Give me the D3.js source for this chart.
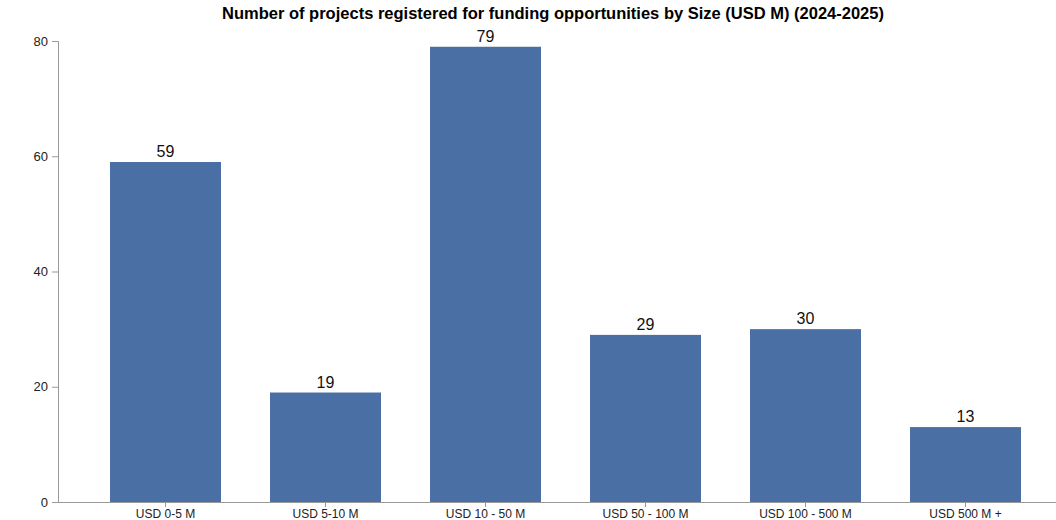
<!DOCTYPE html>
<html><head><meta charset="utf-8">
<script src="https://cdn.jsdelivr.net/npm/d3@7"></script>
<style>body{margin:0;background:#fff;} svg{display:block;font-family:"Liberation Sans",Arial,sans-serif;}</style>
</head><body>
<svg id="chart" width="1056" height="520"></svg>
<script>
const categories = ["USD 0-5 M","USD 5-10 M","USD 10 - 50 M","USD 50 - 100 M","USD 100 - 500 M","USD 500 M +"];
const values = [59,19,79,29,30,13];
const yTicks = [0,20,40,60,80];
const title = "Number of projects registered for funding opportunities by Size (USD M) (2024-2025)";

const svg = d3.select("#chart");
const x0 = 58, yBase = 502, yTop = 41;
const x = d3.scaleBand().domain(categories).range([x0, 1073]).paddingInner(0.30625).paddingOuter(0.325);
const y = d3.scaleLinear().domain([0,80]).range([yBase, yTop]);

svg.append("text").attr("x",553).attr("y",19).attr("text-anchor","middle")
  .attr("font-weight","bold").attr("font-size",16.5).attr("fill","#000").text(title);

const yAxis = svg.append("g").attr("transform",`translate(${x0},0)`)
  .call(d3.axisLeft(y).tickValues(yTicks).tickSize(6).tickPadding(4));
const xAxis = svg.append("g").attr("transform",`translate(0,${yBase})`)
  .call(d3.axisBottom(x).tickSize(5).tickSizeOuter(0).tickPadding(2));
[yAxis,xAxis].forEach(a=>{
  a.selectAll("path,line").attr("stroke","#999");
  a.selectAll("text").attr("fill","#222").attr("font-family","Liberation Sans, Arial, sans-serif");
});
yAxis.selectAll("text").attr("font-size",13);
xAxis.selectAll("text").attr("font-size",12);

svg.append("g").selectAll("rect").data(values).join("rect")
  .attr("x",(d,i)=>x(categories[i])).attr("width",x.bandwidth())
  .attr("y",d=>y(d)).attr("height",d=>yBase-y(d)).attr("fill","#4a6fa5");

svg.append("g").selectAll("text").data(values).join("text")
  .attr("x",(d,i)=>x(categories[i])+x.bandwidth()/2).attr("y",d=>y(d)-5)
  .attr("text-anchor","middle").attr("font-size",16).attr("fill","#111").text(d=>d);
</script>
</body></html>
